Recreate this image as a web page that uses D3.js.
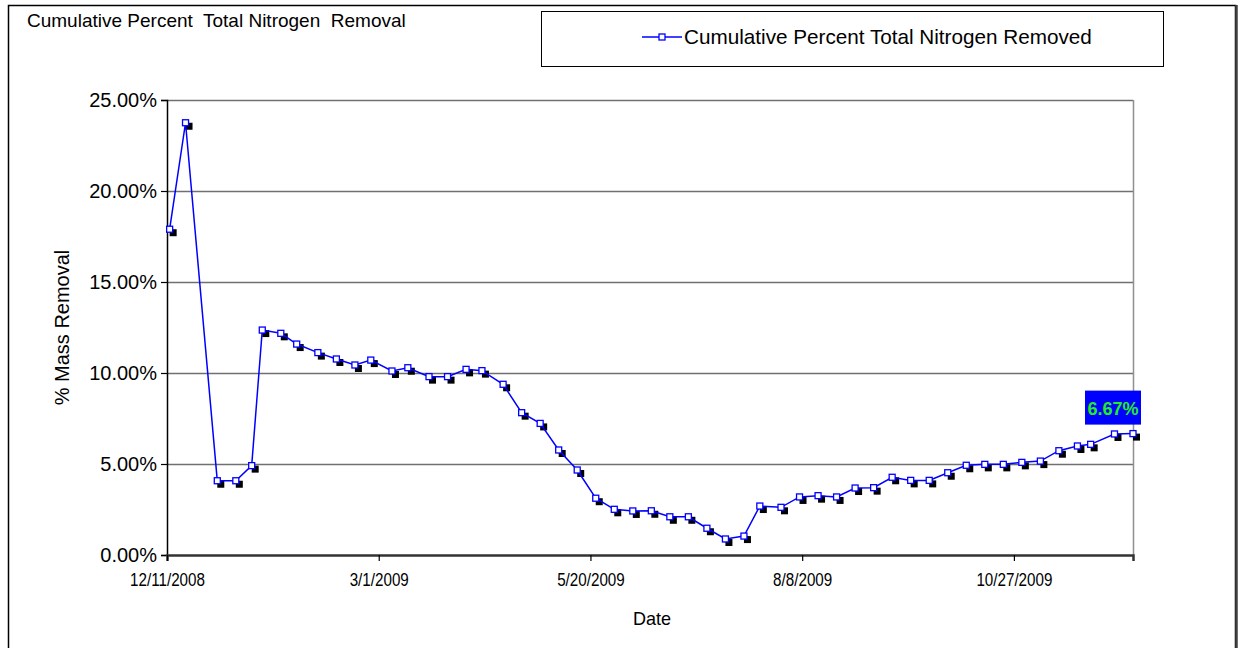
<!DOCTYPE html>
<html>
<head>
<meta charset="utf-8">
<script src="https://cdn.jsdelivr.net/npm/d3@7"></script>
<style>
  html, body { margin: 0; padding: 0; background: #fff; }
  text { font-family: "Liberation Sans", Arial, sans-serif; }
</style>
</head>
<body>
<svg id="chart" width="1238" height="648"></svg>
<script>
// ---- data ----
const dates = [
  "2008-12-12","2008-12-18","2008-12-30","2009-01-06","2009-01-12","2009-01-16","2009-01-23","2009-01-29",
  "2009-02-06","2009-02-13","2009-02-20","2009-02-26","2009-03-06","2009-03-12","2009-03-20","2009-03-27",
  "2009-04-03","2009-04-09","2009-04-17","2009-04-24","2009-05-01","2009-05-08","2009-05-15","2009-05-22",
  "2009-05-29","2009-06-05","2009-06-12","2009-06-19","2009-06-26","2009-07-03","2009-07-10","2009-07-17",
  "2009-07-23","2009-07-31","2009-08-07","2009-08-14","2009-08-21","2009-08-28","2009-09-04","2009-09-11",
  "2009-09-18","2009-09-25","2009-10-02","2009-10-09","2009-10-16","2009-10-23","2009-10-30","2009-11-06",
  "2009-11-13","2009-11-20","2009-11-25","2009-12-04","2009-12-11"
];
const percentRemoved = [
  17.9, 23.75, 4.08, 4.08, 4.91, 12.36, 12.18, 11.59, 11.12, 10.77, 10.44, 10.71, 10.11, 10.29, 9.80, 9.80,
  10.20, 10.13, 9.38, 7.82, 7.23, 5.77, 4.67, 3.12, 2.51, 2.42, 2.43, 2.10, 2.10, 1.47, 0.88, 1.04,
  2.69, 2.62, 3.19, 3.26, 3.19, 3.68, 3.70, 4.27, 4.10, 4.10, 4.52, 4.93, 4.98, 4.98, 5.09, 5.16,
  5.73, 5.99, 6.08, 6.65, 6.67
];
const xTickLabels = ["12/11/2008", "3/1/2009", "5/20/2009", "8/8/2009", "10/27/2009"];
const yTicks = [0, 5, 10, 15, 20, 25];
const xDomain = ["2008-12-11", "2009-12-11"];
const seriesName = "Cumulative Percent Total Nitrogen Removed";
const chartTitle = "Cumulative Percent\u00A0 Total Nitrogen\u00A0 Removal";
const lastLabel = "6.67%";

// ---- layout ----
const svg = d3.select("#chart");
const parse = d3.utcParse("%Y-%m-%d");
const parseMDY = d3.utcParse("%m/%d/%Y");
const data = dates.map((d, i) => ({ date: parse(d), v: percentRemoved[i] }));
const FONT = "'Liberation Sans', Arial, sans-serif";

const L = 167, R = 1133, T = 100, B = 555;
const x = d3.scaleUtc().domain(xDomain.map(parse)).range([L, R]);
const y = d3.scaleLinear().domain([0, 25]).range([B, T]);

// outer border
svg.append("rect").attr("x", 8.5).attr("y", 5.5).attr("width", 1227).attr("height", 660)
  .attr("fill", "none").attr("stroke", "#000").attr("stroke-width", 1.5);
svg.append("line").attr("x1", 1236.5).attr("x2", 1236.5).attr("y1", 5).attr("y2", 648)
  .attr("stroke", "#404040").attr("stroke-width", 2.5);

// title
svg.append("text").attr("x", 27).attr("y", 27).attr("font-size", 19).attr("fill", "#000")
  .text(chartTitle);

// gridlines
svg.append("g").selectAll("line").data(yTicks.filter(t => t > 0)).join("line")
  .attr("x1", L).attr("x2", R)
  .attr("y1", d => Math.round(y(d)) + 0.5).attr("y2", d => Math.round(y(d)) + 0.5)
  .attr("stroke", "#707070").attr("stroke-width", 1.5);
// right border of plot
svg.append("line").attr("x1", R + 0.5).attr("x2", R + 0.5).attr("y1", T).attr("y2", B)
  .attr("stroke", "#909090").attr("stroke-width", 1.5);

// y axis
const yAxis = d3.axisLeft(y).tickValues(yTicks).tickSize(6).tickPadding(4)
  .tickFormat(d => d.toFixed(2) + "%");
const gy = svg.append("g").attr("transform", `translate(${L},0)`).call(yAxis);
gy.select(".domain").attr("stroke", "#000").attr("stroke-width", 1.5);
gy.selectAll(".tick line").attr("stroke", "#000").attr("stroke-width", 1.2);
gy.selectAll(".tick text").attr("font-size", 20).attr("fill", "#000").attr("font-family", FONT);

// x axis
const xAxis = d3.axisBottom(x).tickValues(xTickLabels.map(parseMDY)).tickSize(6).tickPadding(12)
  .tickFormat((d, i) => xTickLabels[i]);
const gx = svg.append("g").attr("transform", `translate(0,${B})`).call(xAxis);
gx.select(".domain").attr("stroke", "#333").attr("stroke-width", 2.5);
gx.selectAll(".tick line").attr("stroke", "#000").attr("stroke-width", 1.2);
gx.selectAll(".tick text").attr("font-size", 19).attr("fill", "#000").attr("font-family", FONT)
  .attr("transform", "scale(0.8,1)");

// axis titles
svg.append("text").attr("x", 652).attr("y", 625).attr("text-anchor", "middle")
  .attr("font-size", 19).attr("transform", "translate(652,0) scale(0.95,1) translate(-652,0)").text("Date");
svg.append("text").attr("transform", `translate(69,${(T + B) / 2}) rotate(-90)`)
  .attr("text-anchor", "middle").attr("font-size", 20).text("% Mass Removal");

// shadows
const ms = 6;
svg.append("g").selectAll("rect").data(data).join("rect")
  .attr("x", d => x(d.date) - ms / 2 + 3).attr("y", d => y(d.v) - ms / 2 + 3)
  .attr("width", ms + 1).attr("height", ms + 1).attr("fill", "#000");

// line
const line = d3.line().x(d => x(d.date)).y(d => y(d.v));
svg.append("path").datum(data).attr("d", line).attr("fill", "none")
  .attr("stroke", "#0000FF").attr("stroke-width", 1.5);

// markers
svg.append("g").selectAll("rect").data(data).join("rect")
  .attr("x", d => x(d.date) - ms / 2).attr("y", d => y(d.v) - ms / 2)
  .attr("width", ms).attr("height", ms).attr("fill", "#fff")
  .attr("stroke", "#0000FF").attr("stroke-width", 1.3);

// data label on last point
const last = data[data.length - 1];
const lx = x(last.date), ly = y(last.v);
svg.append("rect").attr("x", lx - 48).attr("y", ly - 43).attr("width", 56).attr("height", 34)
  .attr("fill", "#0000FF");
svg.append("text").attr("x", lx - 20).attr("y", ly - 19).attr("text-anchor", "middle")
  .attr("font-size", 18).attr("font-weight", "bold").attr("fill", "#22EE22").text(lastLabel);

// legend
svg.append("rect").attr("x", 541.5).attr("y", 11.5).attr("width", 622).attr("height", 55)
  .attr("fill", "#fff").attr("stroke", "#000").attr("stroke-width", 1);
svg.append("line").attr("x1", 642).attr("x2", 682).attr("y1", 37).attr("y2", 37)
  .attr("stroke", "#0000FF").attr("stroke-width", 1.5);
svg.append("rect").attr("x", 659).attr("y", 34).attr("width", 6).attr("height", 6)
  .attr("fill", "#fff").attr("stroke", "#0000FF").attr("stroke-width", 1.3);
svg.append("text").attr("x", 684).attr("y", 44).attr("font-size", 20.7).text(seriesName);
</script>
</body>
</html>
